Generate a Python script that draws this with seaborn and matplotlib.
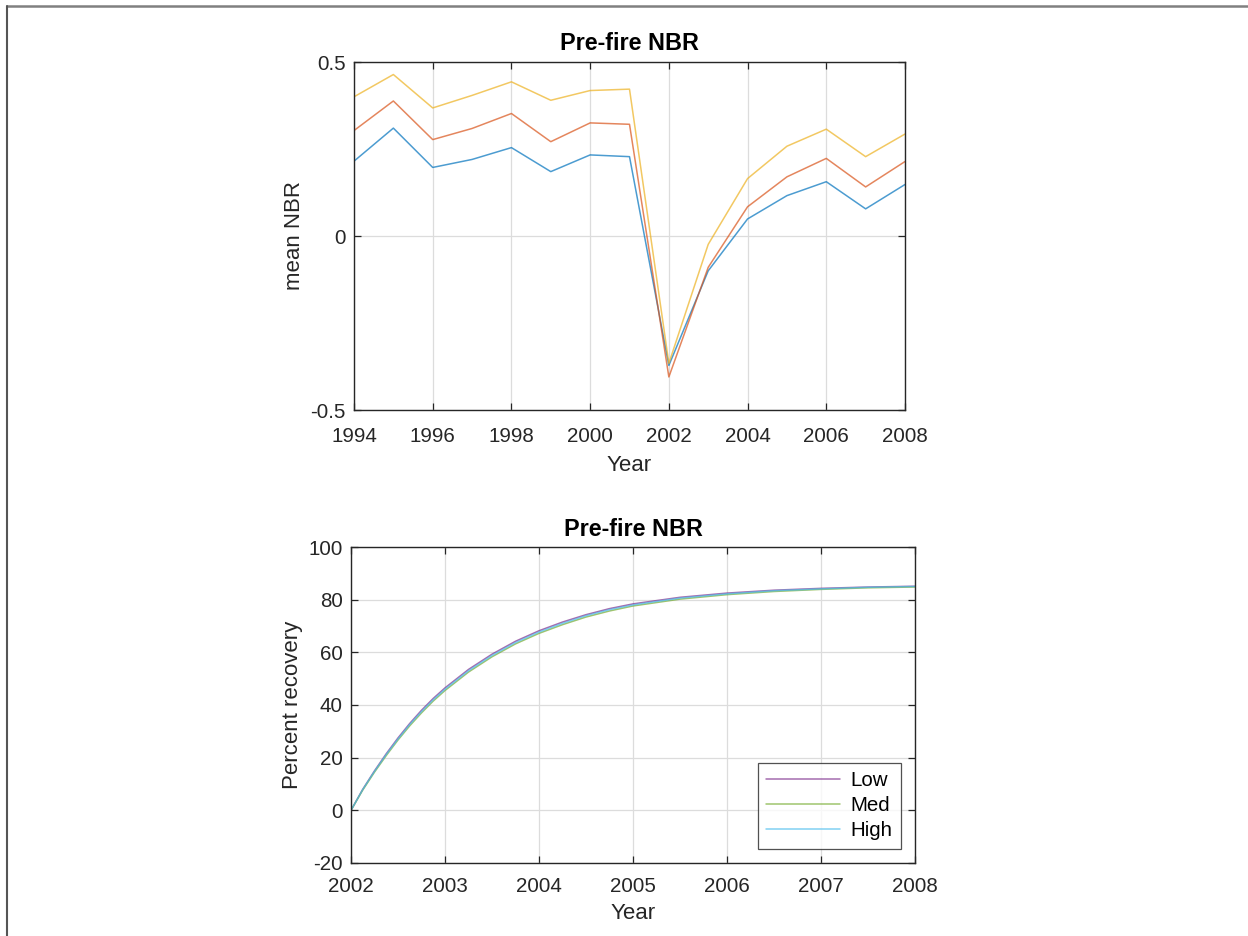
import numpy as np
import pandas as pd
import seaborn as sns
import matplotlib
matplotlib.use("Agg")
import matplotlib.pyplot as plt
from matplotlib.lines import Line2D
from matplotlib.ticker import FuncFormatter

# ---------------- data ----------------
years = [1994, 1995, 1996, 1997, 1998, 1999, 2000, 2001, 2002, 2003, 2004, 2005, 2006, 2007, 2008]
nbr_blue = [0.215, 0.310, 0.197, 0.220, 0.254, 0.185, 0.233, 0.228, -0.372, -0.100, 0.049, 0.116, 0.156, 0.078, 0.148]
nbr_red = [0.303, 0.388, 0.277, 0.309, 0.352, 0.271, 0.325, 0.321, -0.405, -0.090, 0.084, 0.170, 0.223, 0.141, 0.214]
nbr_yellow = [0.400, 0.464, 0.368, 0.404, 0.443, 0.390, 0.418, 0.422, -0.366, -0.024, 0.165, 0.258, 0.307, 0.228, 0.293]

rec_time = [2002.0, 2002.125, 2002.25, 2002.375, 2002.5, 2002.625, 2002.75, 2002.875, 2003.0,
            2003.25, 2003.5, 2003.75, 2004.0, 2004.25, 2004.5, 2004.75, 2005.0,
            2005.5, 2006.0, 2006.5, 2007.0, 2007.5, 2008.0]
rec_low = [0, 8.0, 15.0, 21.5, 27.5, 33.0, 38.0, 42.5, 46.5, 53.5, 59.3, 64.2, 68.2, 71.5, 74.3, 76.6, 78.4,
           80.9, 82.5, 83.6, 84.3, 84.8, 85.1]
rec_med = [0, 7.7, 14.5, 20.8, 26.7, 32.1, 37.0, 41.5, 45.5, 52.5, 58.3, 63.2, 67.2, 70.5, 73.4, 75.7, 77.6,
           80.2, 81.9, 83.1, 83.9, 84.5, 84.8]
rec_high = [0, 7.9, 14.8, 21.2, 27.1, 32.6, 37.5, 42.0, 46.0, 53.0, 58.8, 63.7, 67.7, 71.0, 73.9, 76.2, 78.0,
            80.6, 82.2, 83.4, 84.1, 84.7, 85.0]
rec_labels = ["Low", "Med", "High"]

# ---------------- style ----------------
sns.set_theme(style="white")
plt.rcParams["font.family"] = ["Liberation Sans", "DejaVu Sans"]
AX = "#262626"

fig = plt.figure(figsize=(12.48, 9.36), dpi=100)

top_df = pd.DataFrame({
    "Year": years * 3,
    "value": nbr_blue + nbr_red + nbr_yellow,
    "series": ["a"] * len(years) + ["b"] * len(years) + ["c"] * len(years),
})
bot_df = pd.DataFrame({
    "Year": rec_time * 3,
    "value": rec_low + rec_med + rec_high,
    "series": [rec_labels[0]] * len(rec_time) + [rec_labels[1]] * len(rec_time) + [rec_labels[2]] * len(rec_time),
})


def style_axes(ax, xpad):
    for s in ax.spines.values():
        s.set_color(AX)
        s.set_linewidth(1.0)
    ax.tick_params(direction="in", top=True, right=True, bottom=True, left=True,
                   length=5, width=0.9, color=AX, labelcolor=AX, labelsize=14.8)
    ax.tick_params(axis="x", pad=xpad)
    ax.tick_params(axis="y", pad=6)
    ax.grid(True, color="#dcdcdc", linewidth=0.9)
    ax.set_axisbelow(True)


fmt = FuncFormatter(lambda v, p: ("%g" % v).replace("\u2212", "-"))

# top panel
ax1 = fig.add_axes([354 / 1248, 1 - 410 / 936, 551 / 1248, 348 / 936])
sns.lineplot(data=top_df, x="Year", y="value", hue="series",
             palette=["#0072BD", "#D95319", "#EDB120"], linewidth=1.1, alpha=0.7,
             legend=False, ax=ax1)
ax1.set_xlim(1994, 2008)
ax1.set_ylim(-0.5, 0.5)
ax1.set_xticks(range(1994, 2009, 2))
ax1.set_yticks([-0.5, 0, 0.5])
ax1.yaxis.set_major_formatter(fmt)
ax1.set_title("Pre-fire NBR", fontsize=16.8, fontweight="bold", color="black", pad=9)
ax1.set_xlabel("Year", fontsize=16, color=AX, labelpad=7)
ax1.set_ylabel("mean NBR", fontsize=16, color=AX)
style_axes(ax1, 12)

# bottom panel
ax2 = fig.add_axes([351 / 1248, 1 - 863 / 936, 564 / 1248, 316 / 936])
sns.lineplot(data=bot_df, x="Year", y="value", hue="series",
             palette=["#7E2F8E", "#77AC30", "#4DBEEE"], linewidth=1.1, alpha=0.7,
             ax=ax2)
ax2.set_xlim(2002, 2008)
ax2.set_ylim(-20, 100)
ax2.set_xticks(range(2002, 2009))
ax2.set_yticks(range(-20, 101, 20))
ax2.yaxis.set_major_formatter(fmt)
ax2.set_title("Pre-fire NBR", fontsize=16.8, fontweight="bold", color="black", pad=8)
ax2.set_xlabel("Year", fontsize=16, color=AX, labelpad=5)
ax2.set_ylabel("Percent recovery", fontsize=16, color=AX)
style_axes(ax2, 10)
leg = ax2.legend(loc="lower right", fontsize=14.8, frameon=True, fancybox=False,
                 handlelength=3.6, borderpad=0.4, labelspacing=0.3, handletextpad=0.5,
                 borderaxespad=0.7)
leg.get_frame().set_edgecolor(AX)
leg.get_frame().set_linewidth(0.9)
for t in leg.get_texts():
    t.set_color("black")

# screenshot border lines
fig.add_artist(Line2D([7 / 1248, 1.0], [1 - 6 / 936, 1 - 6 / 936], color="#808080", linewidth=1.8,
                      transform=fig.transFigure))
fig.add_artist(Line2D([7 / 1248, 7 / 1248], [0.0, 1 - 6 / 936], color="#555555", linewidth=1.5,
                      transform=fig.transFigure))

fig.savefig("out.png", dpi=100, facecolor="white")
